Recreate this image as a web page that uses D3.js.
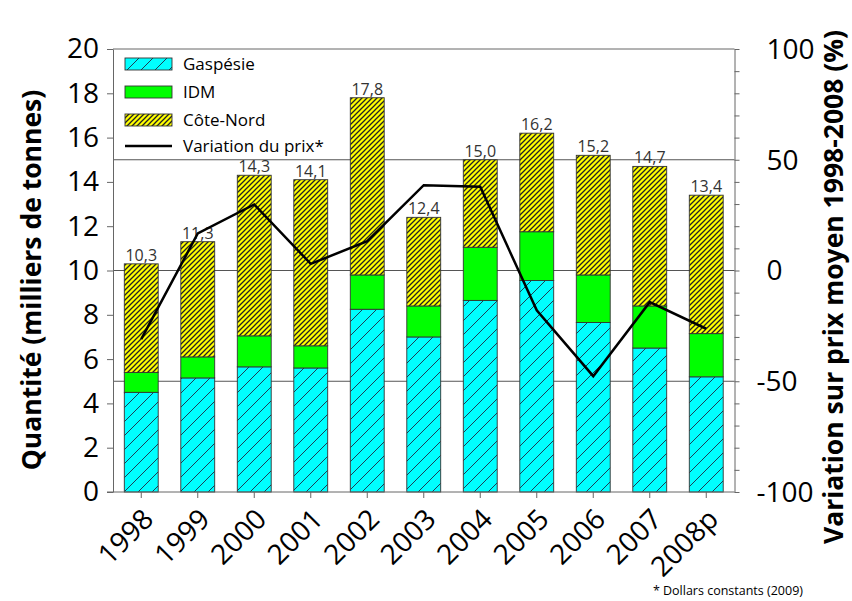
<!doctype html>
<html>
<head>
<meta charset="utf-8">
<script src="https://cdnjs.cloudflare.com/ajax/libs/d3/7.8.5/d3.min.js"></script>
<style>
body { margin: 0; background: #fff; }
svg { font-family: "Open Sans", sans-serif; }
.domain { stroke: #666; }
.tick line { stroke: #666; }
</style>
</head>
<body>
<svg id="chart" width="852" height="601"></svg>
<script>
// données (milliers de tonnes)
var annees = ["1998", "1999", "2000", "2001", "2002", "2003", "2004", "2005", "2006", "2007", "2008p"];
var gaspesie = [4.5, 5.15, 5.65, 5.6, 8.25, 7.0, 8.65, 9.55, 7.65, 6.5, 5.2];
var idm = [0.9, 0.95, 1.4, 1.0, 1.55, 1.4, 2.4, 2.2, 2.15, 1.9, 1.95];
var coteNord = [4.9, 5.2, 7.25, 7.5, 8.0, 4.0, 3.95, 4.45, 5.4, 6.3, 6.25];
var prixVar = [-31, 16.7, 29.8, 3.0, 13.2, 38.5, 37.8, -18, -47.7, -14.3, -26.3];

var leftTicks = [0, 2, 4, 6, 8, 10, 12, 14, 16, 18, 20];
var rightTicks = [-100, -50, 0, 50, 100];
var rightMinor = d3.range(-100, 101, 10);

var series = [
  {key: "gaspesie", nom: "Gaspésie", fill: "url(#hatchCyan)"},
  {key: "idm", nom: "IDM", fill: "#00ff00"},
  {key: "coteNord", nom: "Côte-Nord", fill: "url(#hatchJaune)"}
];

var svg = d3.select("#chart");
var mLeft = 113, mRight = 734.5, mTop = 49, mBottom = 492;

var fr = d3.formatLocale({decimal: ",", thousands: " ", grouping: [3], currency: ["", " $"]});
var fmt = fr.format(".1f");

var x = d3.scaleBand().domain(annees).range([mLeft, mRight]).paddingInner(0.4).paddingOuter(0.2);
var y = d3.scaleLinear().domain([0, 20]).range([mBottom, mTop]);
var y2 = d3.scaleLinear().domain([-100, 100]).range([mBottom, mTop]);

// motifs hachurés
var defs = svg.append("defs");
var p1 = defs.append("pattern").attr("id", "hatchCyan")
  .attr("patternUnits", "userSpaceOnUse").attr("width", 14).attr("height", 14);
p1.append("rect").attr("width", 14).attr("height", 14).attr("fill", "#00ffff");
p1.append("path").attr("d", "M0,14 L14,0 M-3,3 L3,-3 M11,17 L17,11")
  .attr("stroke", "#1d3d55").attr("stroke-width", 1);

var p2 = defs.append("pattern").attr("id", "hatchJaune")
  .attr("patternUnits", "userSpaceOnUse").attr("width", 5).attr("height", 5);
p2.append("rect").attr("width", 5).attr("height", 5).attr("fill", "#ffff00");
p2.append("path").attr("d", "M0,5 L5,0 M-2,2 L2,-2 M3,7 L7,3")
  .attr("stroke", "#222").attr("stroke-width", 1.3);

// lignes de grille (axe de droite)
svg.append("g").selectAll("line.grid")
  .data([-50, 0, 50])
  .enter().append("line")
  .attr("class", "grid")
  .attr("x1", mLeft).attr("x2", mRight)
  .attr("y1", d => y2(d)).attr("y2", d => y2(d))
  .attr("stroke", "#555").attr("stroke-width", 1);

// barres empilées
var stack = d3.stack().keys(series.map(s => s.key));
var rows = annees.map((a, i) => ({annee: a, gaspesie: gaspesie[i], idm: idm[i], coteNord: coteNord[i]}));
var couches = stack(rows);

svg.append("g").selectAll("g.couche")
  .data(couches)
  .enter().append("g")
  .attr("class", "couche")
  .attr("fill", (d, i) => series[i].fill)
  .selectAll("rect")
  .data(d => d)
  .enter().append("rect")
  .attr("x", d => x(d.data.annee))
  .attr("width", x.bandwidth())
  .attr("y", d => y(d[1]))
  .attr("height", d => y(d[0]) - y(d[1]))
  .attr("stroke", "#333")
  .attr("stroke-width", 0.9);

// étiquettes des totaux
svg.append("g").selectAll("text")
  .data(rows)
  .enter().append("text")
  .attr("x", d => x(d.annee) + x.bandwidth() / 2)
  .attr("y", d => y(d.gaspesie + d.idm + d.coteNord) - 3)
  .attr("text-anchor", "middle")
  .attr("font-size", 16)
  .attr("fill", "#333")
  .text(d => fmt(d.gaspesie + d.idm + d.coteNord));

// cadre haut
svg.append("line").attr("x1", mLeft).attr("x2", mRight).attr("y1", mTop).attr("y2", mTop)
  .attr("stroke", "#666");

// axe gauche
var axL = svg.append("g").attr("transform", "translate(" + mLeft + ",0)")
  .call(d3.axisLeft(y).tickValues(leftTicks).tickSize(6).tickSizeOuter(0));
axL.selectAll("text").attr("font-size", 28).attr("font-family", "Open Sans").attr("fill", "#000").attr("x", -14);

// axe droit : petites graduations
var axR = svg.append("g").attr("transform", "translate(" + mRight + ",0)")
  .call(d3.axisRight(y2).tickValues(rightMinor).tickSize(5).tickSizeOuter(0).tickFormat(""));
svg.append("g").selectAll("text")
  .data(rightTicks)
  .enter().append("text")
  .attr("x", d => mRight + 32 - (d < 0 ? 10 : 0))
  .attr("y", d => y2(d))
  .attr("dy", "0.35em")
  .attr("font-size", 28)
  .attr("fill", "#000")
  .text(d => d);

// axe bas
var axB = svg.append("g").attr("transform", "translate(0," + mBottom + ")")
  .call(d3.axisBottom(x).tickSize(6).tickSizeOuter(0));
axB.select(".domain").attr("d", "M" + (mLeft - 6) + ",0H" + mRight);
axB.selectAll("text")
  .attr("font-size", 28).attr("font-family", "Open Sans").attr("fill", "#000")
  .attr("text-anchor", "end")
  .attr("transform", "translate(0,15) rotate(-45)")
  .attr("dy", "0.7em").attr("y", 0).attr("x", 0);

// ligne de variation du prix
var line = d3.line()
  .x((d, i) => x(annees[i]) + x.bandwidth() / 2)
  .y(d => y2(d));
svg.append("path")
  .datum(prixVar)
  .attr("d", line)
  .attr("fill", "none")
  .attr("stroke", "#000")
  .attr("stroke-width", 2.5)
  .attr("stroke-linejoin", "miter");

// légende
var leg = svg.append("g").attr("transform", "translate(125,58)");
series.forEach((s, i) => {
  leg.append("rect").attr("x", 0).attr("y", i * 28).attr("width", 47).attr("height", 12)
    .attr("fill", s.fill).attr("stroke", "#333").attr("stroke-width", 0.9);
  leg.append("text").attr("x", 58).attr("y", i * 28 + 6).attr("dy", "0.35em")
    .attr("font-size", 17).attr("fill", "#000").text(s.nom);
});
leg.append("line").attr("x1", 0).attr("x2", 47).attr("y1", 88).attr("y2", 88)
  .attr("stroke", "#000").attr("stroke-width", 2.5);
leg.append("text").attr("x", 58).attr("y", 88).attr("dy", "0.35em")
  .attr("font-size", 17).attr("fill", "#000").text("Variation du prix*");

// titres d'axes
svg.append("text")
  .attr("transform", "translate(32,280) rotate(-90)")
  .attr("text-anchor", "middle").attr("dy", "0.35em")
  .attr("font-size", 26.5).attr("font-weight", "bold")
  .text("Quantité (milliers de tonnes)");
svg.append("text")
  .attr("transform", "translate(834,287) rotate(-90)")
  .attr("text-anchor", "middle").attr("dy", "0.35em")
  .attr("font-size", 26.5).attr("font-weight", "bold")
  .text("Variation sur prix moyen 1998-2008 (%)");

// note
svg.append("text")
  .attr("x", 803).attr("y", 595)
  .attr("text-anchor", "end")
  .attr("font-size", 12.5).attr("fill", "#000")
  .text("* Dollars constants (2009)");
</script>
</body>
</html>
